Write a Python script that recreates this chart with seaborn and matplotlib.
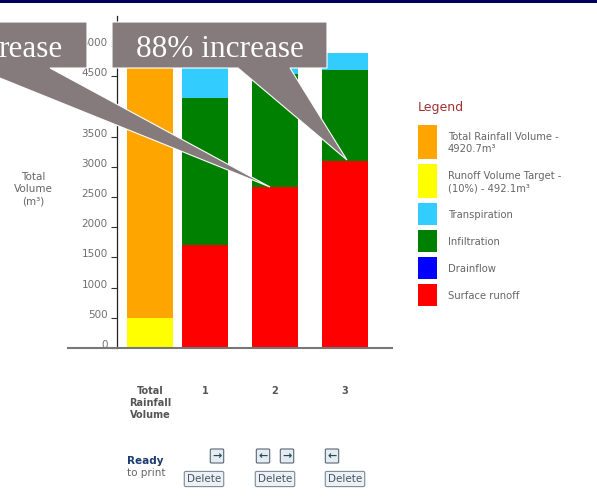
import numpy as np
import pandas as pd
import matplotlib
matplotlib.use("Agg")
import matplotlib.pyplot as plt
import matplotlib.transforms as mtrans
from matplotlib.patches import Rectangle, Polygon
import seaborn as sns

# ---------------- data ----------------
categories = ["Total\nRainfall\nVolume", "1", "2", "3"]
rainfall_total = [4920.7, 0, 0, 0]
runoff_target = [492.1, 0, 0, 0]
surface_runoff = [0, 1705, 2672, 3095]
drainflow = [0, 0, 0, 0]
infiltration = [0, 2429, 1868, 1508]
transpiration = [0, 756, 350, 287]
yticks = list(range(0, 5001, 500))
legend_labels = ["Total Rainfall Volume -\n4920.7m³",
                 "Runoff Volume Target -\n(10%) - 492.1m³",
                 "Transpiration", "Infiltration", "Drainflow", "Surface runoff"]
callout_text = "88% increase"
callout_text_left = "rease"   # visible part of the left callout (cut by the slide edge)

# ---------------- layout / style ----------------
W, H = 597, 497
xpos = [0, 0.786, 1.786, 2.786]
colors = {"rain": "#FFA500", "target": "#FFFF00", "transp": "#33CCFF",
          "infil": "#008000", "drain": "#0000FF", "surf": "#FF0000"}
grey_txt = "#666666"

sns.set_style("white")
plt.rcParams["font.family"] = ["DejaVu Sans"]

fig = plt.figure(figsize=(W / 100, H / 100), dpi=100)

def fx(x):
    return x / W

def fy(y):
    return 1 - y / H

ax_left, ax_right, ax_top, ax_bot = 116.5, 393, 16, 348
ax = fig.add_axes([fx(ax_left), fy(ax_bot), (ax_right - ax_left) / W, (ax_bot - ax_top) / H])
ax.set_facecolor("white")

df = pd.DataFrame({"pos": xpos, "rain": rainfall_total, "target": runoff_target,
                   "surf": surface_runoff, "drain": drainflow,
                   "infil": infiltration, "transp": transpiration})

bw = 0.827
common = dict(native_scale=True, width=bw, saturation=1, errorbar=None,
              linewidth=0, ax=ax)
sns.barplot(data=df, x="pos", y="rain", color=colors["rain"], **common)
sns.barplot(data=df, x="pos", y="target", color=colors["target"], **common)
sns.barplot(data=df, x="pos", y="surf", color=colors["surf"], **common)
b1 = np.array(surface_runoff, dtype=float)
sns.barplot(data=df, x="pos", y="drain", color=colors["drain"], bottom=b1, **common)
b2 = b1 + np.array(drainflow, dtype=float)
sns.barplot(data=df, x="pos", y="infil", color=colors["infil"], bottom=b2, **common)
b3 = b2 + np.array(infiltration, dtype=float)
sns.barplot(data=df, x="pos", y="transp", color=colors["transp"], bottom=b3, **common)

ax.set_xlim((ax_left - 150) / 70, (ax_right - 150) / 70)
ax.set_ylim(0, 5500)
ax.set_xlabel("")
ax.set_ylabel("")

for s in ["top", "right", "bottom"]:
    ax.spines[s].set_visible(False)
ax.spines["left"].set_color("#222222")
ax.spines["left"].set_linewidth(0.9)

ax.set_yticks(yticks)
ax.set_yticklabels([str(v) for v in yticks])
ax.tick_params(axis="y", direction="out", length=4.3, width=0.8, color="#333333",
               pad=2, labelsize=7.5, labelcolor="#707070", left=True)
shift = mtrans.ScaledTranslation(0, 4 / 100, fig.dpi_scale_trans)
for lab in ax.get_yticklabels():
    lab.set_transform(lab.get_transform() + shift)

ax.set_xticks(xpos)
ax.set_xticklabels(categories, fontweight="bold", linespacing=1.25)
ax.tick_params(axis="x", length=0, pad=27, labelsize=7, labelcolor="#555555")

# grey baseline extending left of the axis
ax.plot([(67 - ax_left) / (ax_right - ax_left), 1.0], [0, 0], transform=ax.transAxes,
        color="#777777", lw=1.5, clip_on=False, zorder=5, solid_capstyle="butt")

# y axis title
fig.text(fx(33), fy(189), "Total\nVolume\n(m³)", ha="center", va="center",
         fontsize=7.5, color=grey_txt, linespacing=1.3)

# ---------------- legend ----------------
fig.text(fx(418), fy(108), "Legend", ha="left", va="center", fontsize=9, color="#a33030")
sw = [(125, 159, "rain"), (164, 198, "target"), (203, 225, "transp"),
      (230, 252, "infil"), (257, 279, "drain"), (284, 306, "surf")]
for (y0, y1, key), lab in zip(sw, legend_labels):
    fig.add_artist(Rectangle((fx(418), fy(y1)), 19 / W, (y1 - y0) / H,
                             transform=fig.transFigure, facecolor=colors[key],
                             edgecolor="none"))
    fig.text(fx(448), fy((y0 + y1) / 2 + 1), lab, ha="left", va="center",
             fontsize=7.2, color=grey_txt, linespacing=1.3)

# ---------------- bottom controls ----------------
fig.text(fx(127), fy(461), "Ready", ha="left", va="center", fontsize=7.5,
         fontweight="bold", color="#1b3a6e")
fig.text(fx(127), fy(473), "to print", ha="left", va="center", fontsize=7.5,
         color=grey_txt)
for xc in [204, 275, 345]:
    fig.text(fx(xc), fy(479), "Delete", ha="center", va="center", fontsize=7.5,
             color="#445566",
             bbox=dict(boxstyle="round,pad=0.25,rounding_size=0.15",
                       fc="#eef1f4", ec="#7a8a99", lw=0.8))
for xc, arrow in [(217, "→"), (263, "←"), (287, "→"), (332, "←")]:
    fig.text(fx(xc), fy(456), arrow, ha="center", va="center", fontsize=8,
             fontweight="bold", color="#1f4f5f",
             bbox=dict(boxstyle="round,pad=0.18,rounding_size=0.1",
                       fc="#e6ebef", ec="#556677", lw=0.8))

# ---------------- top band ----------------
fig.add_artist(Rectangle((0, fy(3)), 1, 3 / H, transform=fig.transFigure,
                         facecolor="#00005a", edgecolor="none", zorder=10))

# ---------------- callouts ----------------
gray = "#857b7c"
def callout(pts):
    poly = Polygon([(fx(x), fy(y)) for x, y in pts], closed=True,
                   transform=fig.transFigure, facecolor=gray, edgecolor="white",
                   lw=0.8, zorder=8)
    fig.add_artist(poly)

callout([(-130, 22), (87, 22), (87, 68), (50, 68), (270, 187), (-25, 68), (-130, 68)])
callout([(112, 22), (327, 22), (327, 68), (290, 68), (347, 160), (238, 68), (112, 68)])

fig.text(fx(63), fy(57), callout_text_left, ha="right", va="baseline", fontsize=22.5,
         family="Liberation Serif", color="white", zorder=9)
fig.text(fx(219.5), fy(57), callout_text, ha="center", va="baseline", fontsize=22.5,
         family="Liberation Serif", color="white", zorder=9)

fig.savefig("out.png", dpi=100, facecolor="white")
